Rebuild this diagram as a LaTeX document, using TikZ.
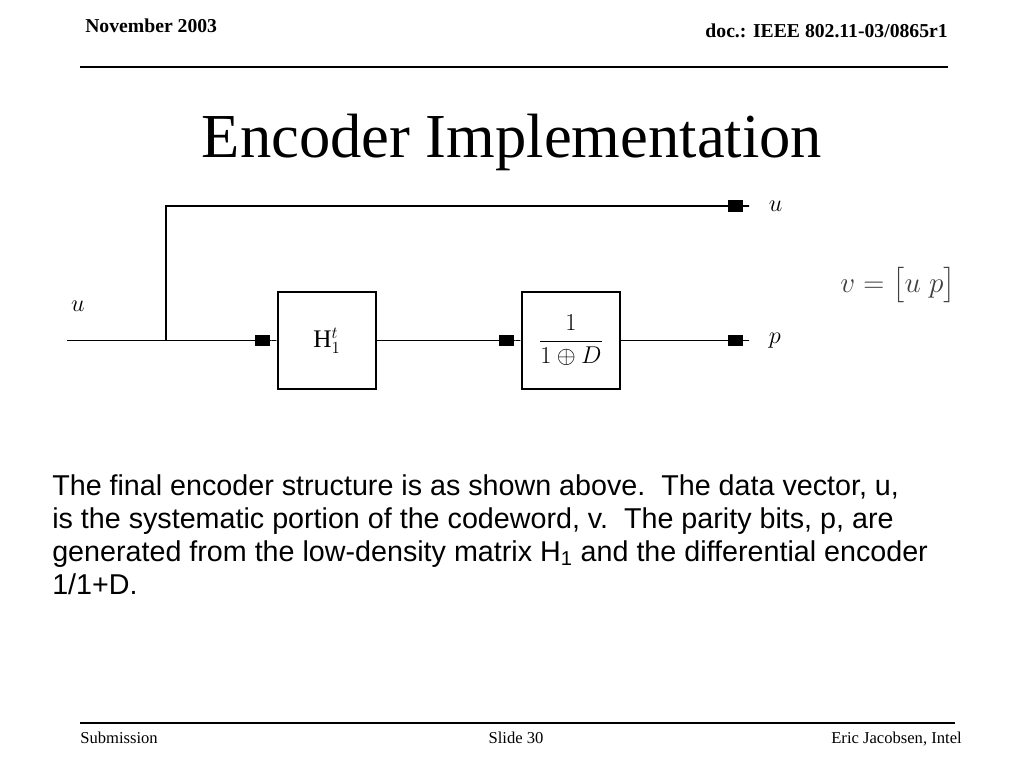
\documentclass[tikz,border=0pt]{standalone}
\usepackage{amsmath}
\usepackage{amssymb}
\usepackage{fontspec}
\setmainfont{Liberation Serif}
\newfontfamily\bodyfont{Liberation Sans}
\usetikzlibrary{positioning}
\usetikzlibrary{arrows.meta}

\tikzset{
  block/.style = {rectangle, draw, line width = 1.4pt, minimum width = 2.43cm, minimum height = 2.43cm, inner sep = 0pt, font = \fontsize{18}{21}\selectfont},
  wire/.style = {line width = 1.4pt},
  feed/.style = {-{Rectangle[length = 11pt, width = 8pt]Rectangle[length = 5pt, width = 1.4pt]}},
  sym/.style = {font = \fontsize{18}{21}\selectfont},
}

\begin{document}
\begin{tikzpicture}[x = 0.025cm, y = -0.025cm]
        \useasboundingbox (0, 0) rectangle (1024, 768);

        % header and footer
        \node[anchor = base west, inner sep = 0pt, font = \fontsize{14}{16}\selectfont\bfseries] (date) at (85, 33) {November 2003};
        \node[anchor = base east, inner sep = 0pt, font = \fontsize{14}{16}\selectfont\bfseries] (docid) at (948, 38) {doc.: IEEE 802.11-03/0865r1};
        \draw[line width = 1.1pt] (80, 67) -- (948, 67);
        \node[anchor = base, inner sep = 0pt, font = \fontsize{44.5}{48}\selectfont] (title) at (512, 158) {Encoder Implementation};

        \draw[line width = 1.1pt] (80, 723) -- (955, 723);
        \node[anchor = base west, inner sep = 0pt, font = \fontsize{11.8}{13}\selectfont] (sub) at (80, 743) {Submission};
        \node[anchor = base, inner sep = 0pt, font = \fontsize{11.8}{13}\selectfont] (slide) at (516, 743) {Slide 30};
        \node[anchor = base east, inner sep = 0pt, font = \fontsize{11.8}{13}\selectfont] (author) at (962, 743) {Eric Jacobsen, Intel};

        % encoder
        \node[block] (hone) at (327, 340.5) {$\mathrm{H}_1^{t}$};
        \node[block] (diff) at (571, 340.5) {$\dfrac{1}{1\oplus D}$};

        \coordinate (src) at (67, 340.5);
        \coordinate (tap) at (166, 340.5);
        \coordinate (uout) at (750, 206);
        \coordinate (pout) at (750, 340.5);

        \node[sym] (uin) at (78, 306) {$u$};
        \node[sym, right = 0.35cm of uout] (ulab) {$u$};
        \node[sym, right = 0.35cm of pout] (plab) {$p$};
        \node[sym, text = black!75, font = \fontsize{21}{24}\selectfont] (vec) at (898, 285) {$v=\bigl[u\;p\bigr]$};

        \draw[wire, feed] (src) -- (hone);
        \draw[wire, feed] (tap) |- (uout);
        \draw[wire, feed] (hone) -- (diff);
        \draw[wire, feed] (diff) -- (pout);

        % caption
        \node[anchor = north west, align = left, inner sep = 0pt, font = \bodyfont\fontsize{20.4}{23.5}\selectfont] (text) at (52, 474) {The final encoder structure is as shown above.\ \ The data vector, u,\\is the systematic portion of the codeword, v.\ \ The parity bits, p, are\\generated from the low-density matrix H\textsubscript{1} and the differential encoder\\1/1+D.};
      \end{tikzpicture}
\end{document}
